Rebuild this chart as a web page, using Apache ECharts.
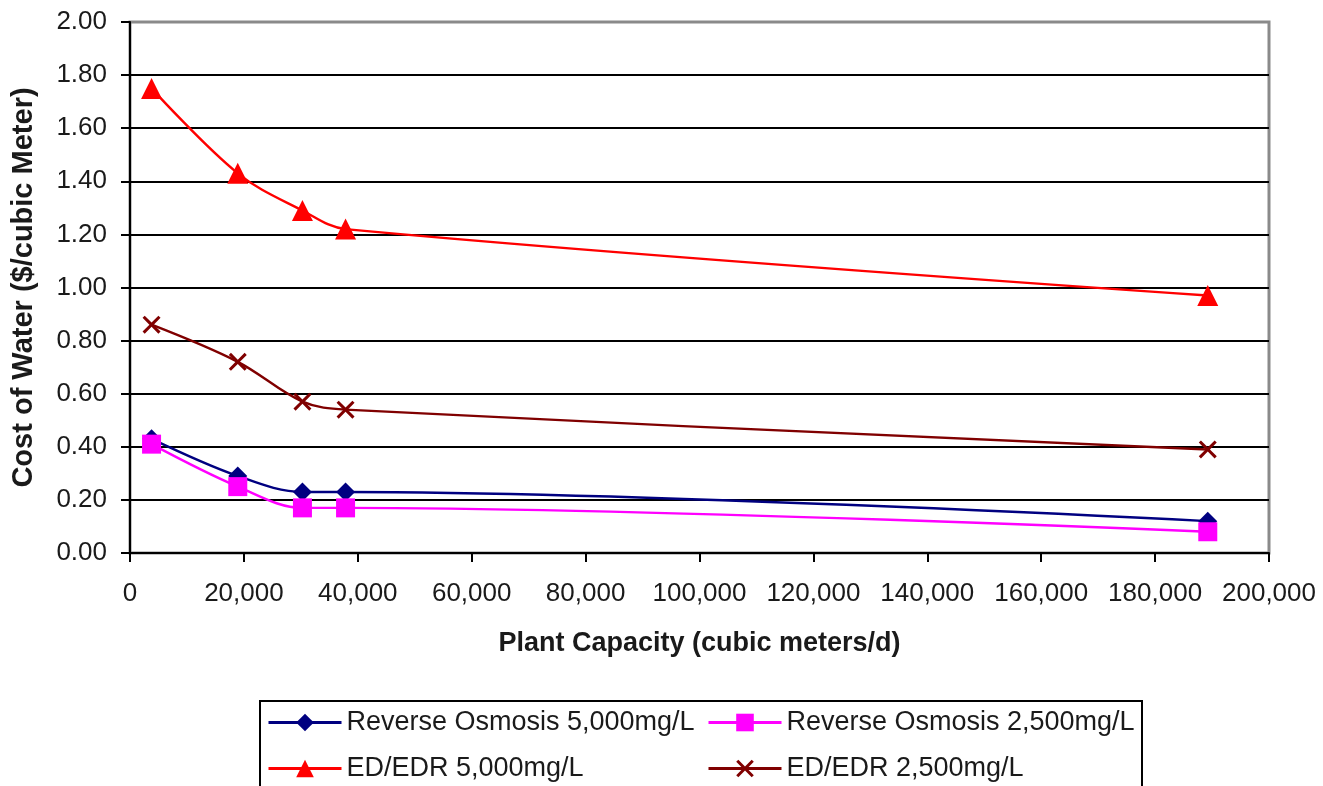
<!DOCTYPE html>
<html>
<head>
<meta charset="utf-8">
<script src="https://cdn.jsdelivr.net/npm/echarts@6/dist/echarts.min.js"></script>
<style>
html,body{margin:0;padding:0;background:#fff;}
#chart{width:1323px;height:786px;}
</style>
</head>
<body>
<div id="chart"></div>
<script>
const capacities = [3785, 18925, 30280, 37850, 189250];
const ro5000 = [0.43, 0.29, 0.23, 0.23, 0.12];
const ro2500 = [0.41, 0.25, 0.17, 0.17, 0.08];
const ed5000 = [1.75, 1.43, 1.29, 1.22, 0.97];
const ed2500 = [0.86, 0.72, 0.57, 0.54, 0.39];
const seriesNames = ['Reverse Osmosis 5,000mg/L', 'Reverse Osmosis 2,500mg/L', 'ED/EDR 5,000mg/L', 'ED/EDR 2,500mg/L'];

const FONT = 'Liberation Sans, Arial, sans-serif';
const xSymbol = 'path://M0,1.2L1.2,0L5,3.8L8.8,0L10,1.2L6.2,5L10,8.8L8.8,10L5,6.2L1.2,10L0,8.8L3.8,5Z';

function pairs(ys){ return capacities.map((x,i)=>[x, ys[i]]); }

function mkSeries(name, ys, color, symbol, size){
  return {
    name: name, type: 'line', data: pairs(ys), smooth: 0.35,
    symbol: symbol, symbolSize: size,
    lineStyle: {color: color, width: 2.4},
    itemStyle: {color: color},
    emphasis: {disabled: true}
  };
}

function mkLegend(name, left, top){
  return {
    data: [name], orient: 'horizontal', left: left, top: top, padding: 0,
    itemWidth: 73, itemHeight: 22, itemGap: 5,
    lineStyle: {width: 3},
    textStyle: {fontFamily: FONT, fontSize: 27, color: '#1a1a1a', lineHeight: 27}
  };
}

const chart = echarts.init(document.getElementById('chart'));
chart.setOption({
  animation: false,
  backgroundColor: '#fff',
  textStyle: {fontFamily: FONT},
  grid: {left: 130, right: 54, top: 22, bottom: 233, outerBoundsMode: 'none', containLabel: false,
         show: true, borderColor: '#8a8a8a', borderWidth: 3, backgroundColor: '#fff'},
  xAxis: {
    type: 'value', min: 0, max: 200000, interval: 20000,
    name: 'Plant Capacity (cubic meters/d)', nameLocation: 'middle', nameGap: 77,
    nameTextStyle: {fontFamily: FONT, fontSize: 27, fontWeight: 'bold', color: '#1a1a1a'},
    axisLine: {lineStyle: {color: '#000', width: 2}},
    axisTick: {show: true, length: 9, lineStyle: {color: '#000', width: 2}},
    axisLabel: {fontFamily: FONT, fontSize: 26, color: '#1a1a1a', margin: 28,
      formatter: v => v.toLocaleString('en-US')},
    splitLine: {show: false}
  },
  yAxis: {
    type: 'value', min: 0, max: 2, interval: 0.2,
    name: 'Cost of Water ($/cubic Meter)', nameLocation: 'middle', nameGap: 92,
    nameTextStyle: {fontFamily: FONT, fontSize: 29, fontWeight: 'bold', color: '#1a1a1a'},
    axisLine: {lineStyle: {color: '#000', width: 2}},
    axisTick: {show: true, length: 9, lineStyle: {color: '#000', width: 2}},
    axisLabel: {fontFamily: FONT, fontSize: 26, color: '#1a1a1a', margin: 23,
      formatter: v => v.toFixed(2)},
    splitLine: {show: true, showMaxLine: false, lineStyle: {color: '#000', width: 2}}
  },
  legend: [
    mkLegend(seriesNames[0], 267, 709),
    mkLegend(seriesNames[1], 707, 709),
    mkLegend(seriesNames[2], 267, 755),
    mkLegend(seriesNames[3], 707, 755)
  ],
  graphic: [{
    type: 'rect', left: 259, top: 700, z: -1,
    shape: {width: 882, height: 110},
    style: {fill: '#fff', stroke: '#000', lineWidth: 2}
  }],
  series: [
    mkSeries(seriesNames[0], ro5000, '#000080', 'diamond', 19),
    mkSeries(seriesNames[1], ro2500, '#ff00ff', 'rect', 19),
    mkSeries(seriesNames[2], ed5000, '#ff0000', 'triangle', 21),
    mkSeries(seriesNames[3], ed2500, '#800000', xSymbol, 18)
  ]
});
</script>
</body>
</html>
